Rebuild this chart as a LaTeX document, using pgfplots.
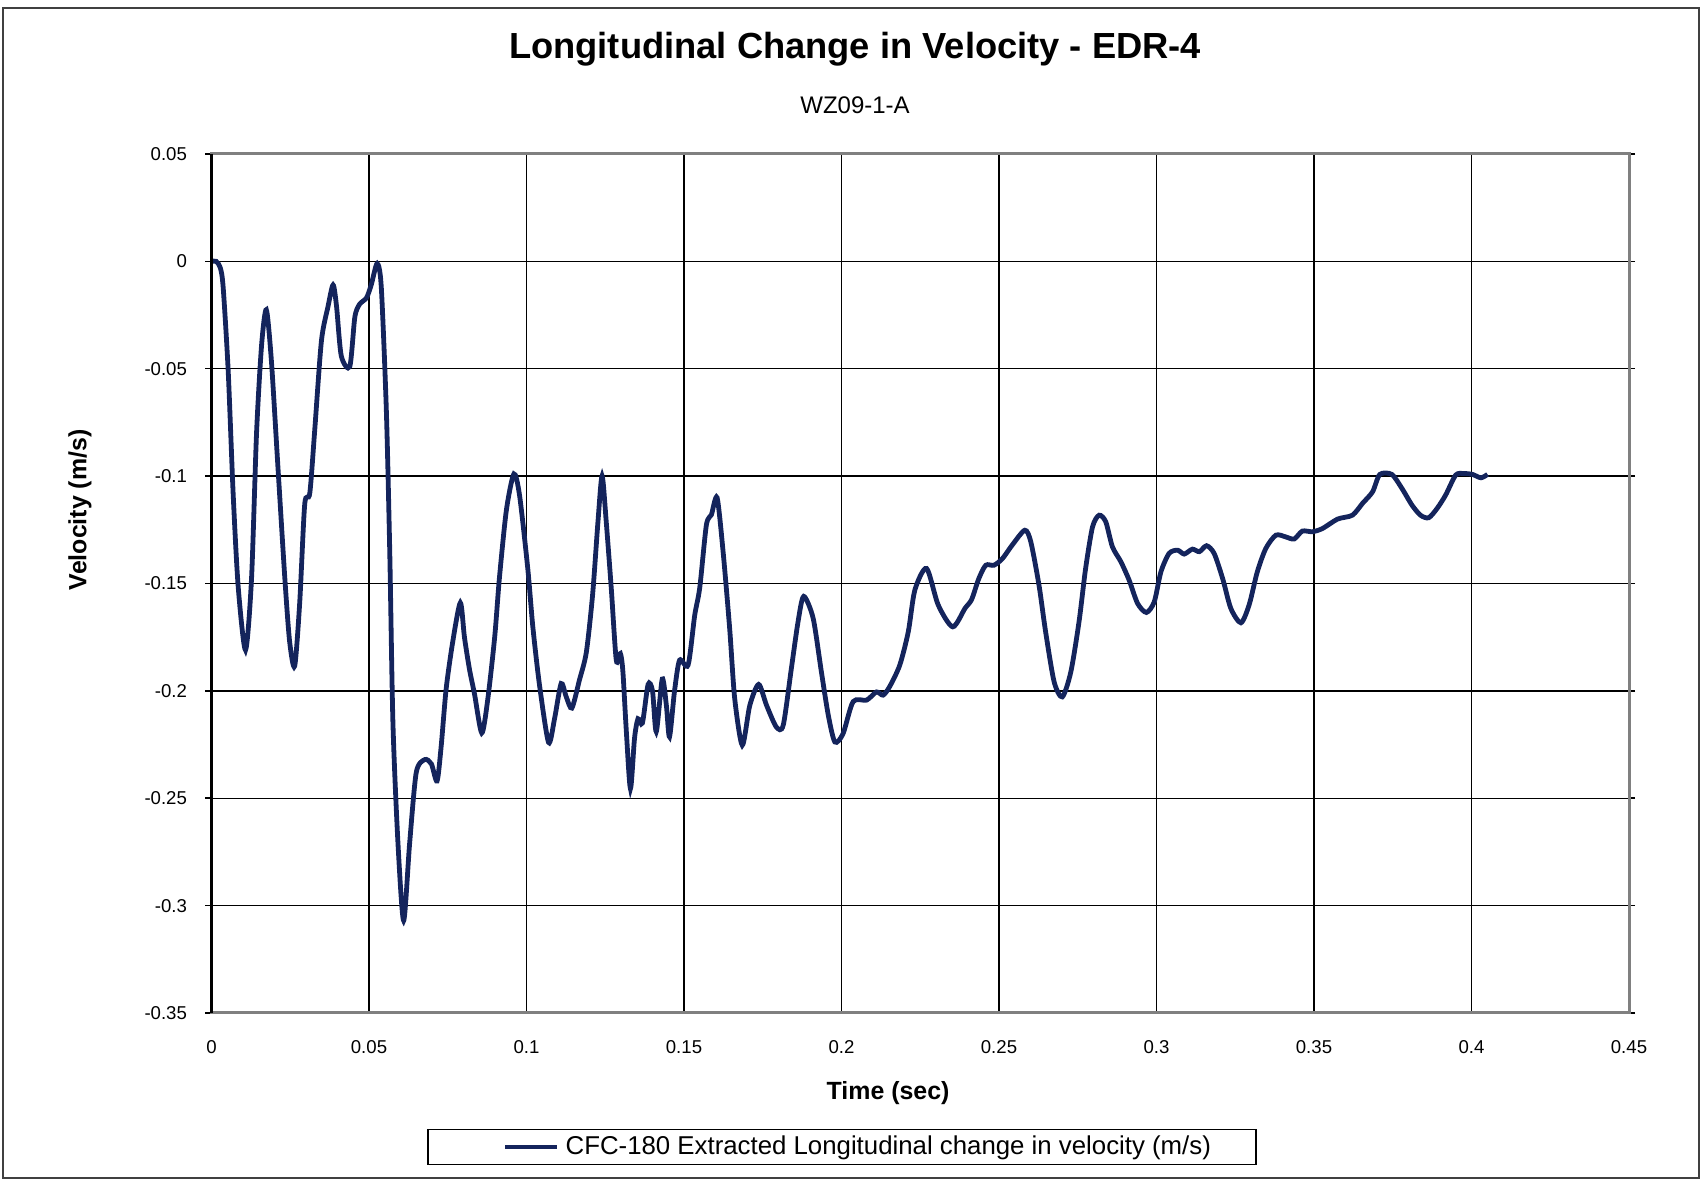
\documentclass[border=0pt]{standalone}
\usepackage{fontspec}
\setmainfont{Liberation Sans}
\usepackage{pgfplots}
\pgfplotsset{compat=1.18}
\definecolor{navy}{RGB}{20,36,92}
\definecolor{framegray}{RGB}{128,128,128}
\begin{document}
\begin{tikzpicture}
\path[use as bounding box] (0bp,0bp) rectangle (567bp,393.333bp);
\draw[black!75, line width=0.7bp] (1bp,0.67bp) rectangle (566.3bp,390.67bp);
\begin{axis}[
  at={(70.5bp,55.67bp)}, anchor=south west,
  width=472.5bp, height=286.33bp, scale only axis,
  xmin=0, xmax=0.45, ymin=-0.35, ymax=0.05,
  xtick={0,0.05,0.1,0.15,0.2,0.25,0.3,0.35,0.4,0.45},
  xticklabels={0,0.05,0.1,0.15,0.2,0.25,0.3,0.35,0.4,0.45},
  ytick={-0.35,-0.3,-0.25,-0.2,-0.15,-0.1,-0.05,0,0.05},
  yticklabels={-0.35,-0.3,-0.25,-0.2,-0.15,-0.1,-0.05,0,0.05},
  tick align=outside, major tick length=2bp,
  xtick style={draw=none},
  ytick style={black, line width=0.5bp},
  ticklabel style={font=\fontsize{6.2bp}{7bp}\selectfont, inner sep=0pt},
  yticklabel style={xshift=-6bp},
  xticklabel style={yshift=-7bp},
  grid=major,
  major grid style={black, line width=0.45bp},
  axis line style={framegray, line width=1bp},
  title={Longitudinal Change in Velocity - EDR-4},
  title style={font=\bfseries\fontsize{12.1bp}{14bp}\selectfont, at={(axis description cs:0.454,1.090)}, anchor=base},
  xlabel={Time (sec)},
  xlabel style={font=\bfseries\fontsize{8.3bp}{10bp}\selectfont, at={(axis description cs:0.4773,-0.1013)}, anchor=base},
  ylabel={Velocity (m/s)},
  ylabel style={font=\bfseries\fontsize{8.3bp}{10bp}\selectfont, at={(axis description cs:-0.0928,0.5856)}, anchor=center},
  legend style={at={(axis description cs:0.4448,-0.156)}, anchor=center, draw=black, line width=0.5bp,
    font=\fontsize{8.6bp}{10bp}\selectfont, inner xsep=13bp, inner ysep=0bp},
  legend image code/.code={\path (-12bp,0pt); \draw[#1] (0pt,0pt) -- (17.3bp,0pt);},
  clip=false,
]
\addplot[navy, line width=1.6bp, smooth, tension=0.45] coordinates {
(0,0) (0.0015,0) (0.0028,-0.003) (0.0037,-0.012) (0.0053,-0.051) (0.0069,-0.109)
(0.0085,-0.152) (0.0108,-0.181) (0.0127,-0.148) (0.0143,-0.080) (0.0159,-0.039)
(0.0174,-0.0225) (0.0190,-0.046) (0.0211,-0.096) (0.0233,-0.148) (0.0248,-0.177)
(0.0264,-0.1885) (0.0280,-0.159) (0.0296,-0.113) (0.0312,-0.108) (0.0328,-0.078)
(0.0349,-0.037) (0.0370,-0.021) (0.0386,-0.011) (0.0397,-0.021) (0.0412,-0.044)
(0.0439,-0.049) (0.0455,-0.026) (0.0470,-0.020) (0.0492,-0.017) (0.0507,-0.011)
(0.0526,-0.001) (0.0539,-0.012) (0.0555,-0.069) (0.0566,-0.136) (0.0576,-0.215)
(0.0592,-0.271) (0.0610,-0.307) (0.0629,-0.271) (0.0650,-0.238) (0.0677,-0.232)
(0.0698,-0.234) (0.0716,-0.242) (0.0729,-0.226) (0.0745,-0.199) (0.0766,-0.177)
(0.0790,-0.159) (0.0803,-0.175) (0.0819,-0.190) (0.0835,-0.2015) (0.0858,-0.2196)
(0.0877,-0.204) (0.0899,-0.175) (0.0914,-0.1475) (0.0936,-0.116) (0.0960,-0.099)
(0.0978,-0.109) (0.1004,-0.143) (0.1020,-0.170) (0.1041,-0.197) (0.1070,-0.224)
(0.1089,-0.213) (0.1110,-0.1966) (0.1126,-0.2027) (0.1144,-0.208) (0.1168,-0.195)
(0.1190,-0.182) (0.1210,-0.155) (0.1227,-0.121) (0.1240,-0.100) (0.1253,-0.121)
(0.1269,-0.152) (0.1285,-0.1857) (0.1298,-0.1826) (0.1306,-0.191) (0.1317,-0.219)
(0.1330,-0.2455) (0.1343,-0.222) (0.1354,-0.213) (0.1368,-0.215) (0.1386,-0.197)
(0.1400,-0.200) (0.1412,-0.219) (0.1431,-0.1945) (0.1444,-0.2067) (0.1454,-0.2214)
(0.1470,-0.200) (0.1486,-0.1857) (0.1513,-0.188) (0.1534,-0.1648) (0.1550,-0.152)
(0.1571,-0.1228) (0.1587,-0.118) (0.1605,-0.110) (0.1624,-0.135) (0.1645,-0.171)
(0.1661,-0.2036) (0.1685,-0.2253) (0.1709,-0.2067) (0.1737,-0.197) (0.1762,-0.2067)
(0.1793,-0.2168) (0.1815,-0.216) (0.1841,-0.1894) (0.1862,-0.1679) (0.1880,-0.156)
(0.1910,-0.1662) (0.1936,-0.191) (0.1958,-0.2113) (0.1979,-0.2238) (0.2005,-0.2199)
(0.2037,-0.205) (0.2080,-0.2043) (0.2111,-0.2005) (0.2132,-0.202) (0.2153,-0.198)
(0.2185,-0.188) (0.2212,-0.1725) (0.2233,-0.153) (0.2270,-0.143) (0.2307,-0.160)
(0.2353,-0.1702) (0.2392,-0.1616) (0.2413,-0.1575) (0.2436,-0.1477) (0.2458,-0.1415)
(0.2484,-0.1415) (0.2511,-0.1384) (0.2542,-0.1321) (0.2582,-0.1252) (0.2601,-0.1306)
(0.2627,-0.1508) (0.2648,-0.1725) (0.2675,-0.1958) (0.2701,-0.2028) (0.2728,-0.1912)
(0.2754,-0.1679) (0.2775,-0.143) (0.2797,-0.1236) (0.2818,-0.1182) (0.2839,-0.1213)
(0.2860,-0.1329) (0.2887,-0.1399) (0.2913,-0.1484) (0.2940,-0.1593) (0.2968,-0.1635)
(0.2993,-0.1585) (0.3014,-0.1446) (0.3040,-0.136) (0.3067,-0.1345) (0.3088,-0.1363)
(0.3114,-0.134) (0.3136,-0.1352) (0.3159,-0.1324) (0.3183,-0.136) (0.3210,-0.1477)
(0.3236,-0.1616) (0.3268,-0.1683) (0.3294,-0.160) (0.3320,-0.1446) (0.3347,-0.1337)
(0.3379,-0.1275) (0.3410,-0.1283) (0.3437,-0.1293) (0.3463,-0.1256) (0.3495,-0.1259)
(0.3527,-0.1244) (0.3575,-0.120) (0.3622,-0.1182) (0.3654,-0.1127) (0.3686,-0.1073)
(0.3709,-0.0992) (0.3747,-0.0992) (0.3779,-0.1057) (0.3811,-0.1135) (0.3838,-0.1182)
(0.3864,-0.1194) (0.3891,-0.115) (0.3918,-0.1088) (0.3950,-0.0995) (0.3976,-0.0988)
(0.4003,-0.0992) (0.4030,-0.1008) (0.4051,-0.0992)
};
\addlegendentry{CFC-180 Extracted Longitudinal change in velocity (m/s)}
\draw[black, line width=0.8bp] (rel axis cs:0,0) -- (rel axis cs:0,1);
\node[font=\fontsize{8bp}{10bp}\selectfont, anchor=base] at (axis description cs:0.454,1.047) {WZ09-1-A};
\end{axis}
\end{tikzpicture}
\end{document}
